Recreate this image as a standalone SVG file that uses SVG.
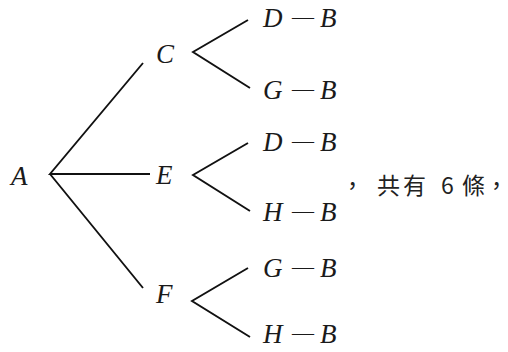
<svg xmlns="http://www.w3.org/2000/svg" width="508" height="352" viewBox="0 0 508 352">
<style>
.t{font-family:"Liberation Serif","Times New Roman",serif;font-style:italic;font-size:27px;fill:#1a1a1a}
.d{font-style:normal;font-size:22px}
.c{font-family:"Noto Sans CJK TC","Noto Sans CJK SC",sans-serif;font-size:23px;fill:#222}
.e{stroke:#111;stroke-width:1.9;fill:none;stroke-linejoin:miter}
</style>
<rect width="508" height="352" fill="#fff"/>
<g id="connectors">
<path class="e" d="M143,63 L50,174 L150,174 M50,174 L143,288"/>
<path class="e" d="M248,20 L193,52 L250,88"/>
<path class="e" d="M248,143 L193,175 L250,211"/>
<path class="e" d="M248,268 L192,301 L250,337"/>
</g>
<g id="A"><text class="t" x="11" y="185">A</text></g>
<g id="C"><text class="t" x="156" y="63">C</text></g>
<g id="E"><text class="t" x="156" y="184">E</text></g>
<g id="F"><text class="t" x="156" y="303">F</text></g>
<g id="CD"><text class="t" x="263" y="27">D<tspan class="d" x="292" dy="-3">—</tspan><tspan x="320" dy="3">B</tspan></text></g>
<g id="CG"><text class="t" x="263" y="99">G<tspan class="d" x="292" dy="-3">—</tspan><tspan x="320" dy="3">B</tspan></text></g>
<g id="ED"><text class="t" x="263" y="151">D<tspan class="d" x="292" dy="-3">—</tspan><tspan x="320" dy="3">B</tspan></text></g>
<g id="EH"><text class="t" x="263" y="221">H<tspan class="d" x="292" dy="-3">—</tspan><tspan x="320" dy="3">B</tspan></text></g>
<g id="FG"><text class="t" x="263" y="277">G<tspan class="d" x="292" dy="-3">—</tspan><tspan x="320" dy="3">B</tspan></text></g>
<g id="FH"><text class="t" x="263" y="343">H<tspan class="d" x="292" dy="-3">—</tspan><tspan x="320" dy="3">B</tspan></text></g>
<g id="note"><text class="c" y="194"><tspan x="341">，</tspan><tspan x="377">共</tspan><tspan x="403">有 </tspan><tspan x="441">6 </tspan><tspan x="462">條</tspan><tspan x="485">，</tspan></text></g>
</svg>
